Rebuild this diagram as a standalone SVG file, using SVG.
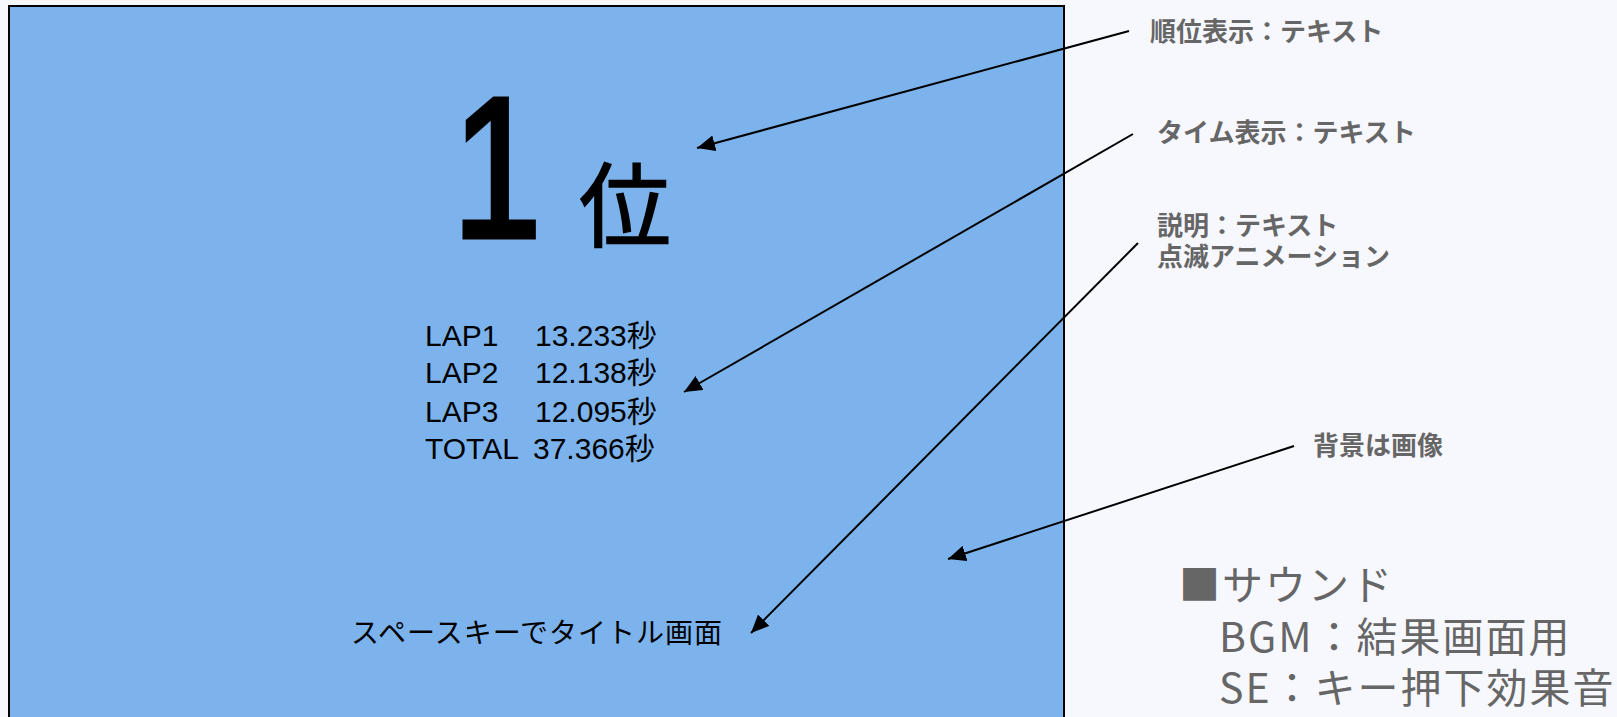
<svg xmlns="http://www.w3.org/2000/svg" width="1617" height="717" viewBox="0 0 1617 717">
  <style>
    .note { font-family: "Noto Sans CJK JP", "Noto Sans", sans-serif; font-size: 26px; font-weight: bold; fill: #666666; }
    .sound { font-family: "Noto Sans CJK JP", "Noto Sans", sans-serif; font-size: 41px; letter-spacing: 2px; fill: #666666; }
    .lap { font-family: "Liberation Sans", Arial, "Noto Sans CJK JP", sans-serif; font-size: 30px; fill: #000000; }
    .conn { stroke: #000000; stroke-width: 2; fill: none; marker-end: url(#arrow); }
  </style>
  <defs>
    <marker id="arrow" markerUnits="userSpaceOnUse" markerWidth="20" markerHeight="16" refX="18" refY="8" orient="auto">
      <path d="M0,0 L18,8 L0,16 Z" fill="#000000"/>
    </marker>
  </defs>
  <rect x="0" y="0" width="1617" height="717" fill="#F7F8FE"/>
  <g id="screen">
    <rect x="9" y="6" width="1055" height="730" fill="#7CB3EC" stroke="#000000" stroke-width="2"/>
  </g>
  <g id="rank">
    <text x="497" y="237" text-anchor="middle" transform="translate(497 0) scale(0.8 1) translate(-497 0)" font-family="'Liberation Sans', Arial, sans-serif" font-size="201" fill="#000000" stroke="#000000" stroke-width="5" stroke-linejoin="miter">1</text>
    <text x="579" y="240" font-family="'Noto Sans CJK JP', sans-serif" font-size="92" fill="#000000" stroke="#000000" stroke-width="1.5">位</text>
  </g>
  <g id="times">
    <text class="lap" y="346"><tspan x="425">LAP1</tspan><tspan x="535">13.233秒</tspan></text>
    <text class="lap" y="383"><tspan x="425">LAP2</tspan><tspan x="535">12.138秒</tspan></text>
    <text class="lap" y="422"><tspan x="425">LAP3</tspan><tspan x="535">12.095秒</tspan></text>
    <text class="lap" y="459"><tspan x="425">TOTAL</tspan><tspan x="533">37.366秒</tspan></text>
  </g>
  <g id="hint">
    <text x="351" y="643" font-family="'Noto Sans CJK JP', sans-serif" font-size="28" letter-spacing="1" fill="#000000">スペースキーでタイトル画面</text>
  </g>
  <g id="label-rank">
    <text class="note" x="1150" y="41">順位表示：テキスト</text>
  </g>
  <g id="label-time">
    <text class="note" x="1157" y="142">タイム表示：テキスト</text>
  </g>
  <g id="label-desc">
    <text class="note" x="1157" y="235">説明：テキスト</text>
    <text class="note" x="1157" y="266">点滅アニメーション</text>
  </g>
  <g id="label-bg">
    <text class="note" x="1313" y="455">背景は画像</text>
  </g>
  <g id="sound">
    <text class="sound" x="1179" y="600">■サウンド</text>
    <text class="sound" x="1219" y="652">BGM：結果画面用</text>
    <text class="sound" x="1219" y="703">SE：キー押下効果音</text>
  </g>
  <g id="connectors">
    <path class="conn" d="M1129,31 L697,148"/>
    <path class="conn" d="M1133,134 L684,392"/>
    <path class="conn" d="M1138,243 L751,633"/>
    <path class="conn" d="M1294,446 L948,559"/>
  </g>
</svg>
